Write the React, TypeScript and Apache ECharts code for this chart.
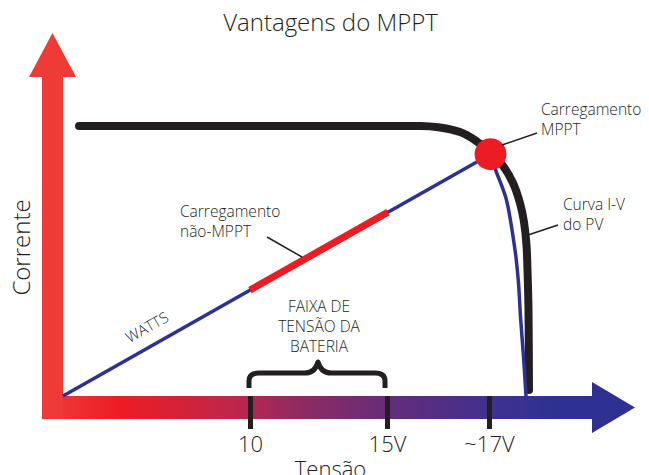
import React, { useEffect, useRef } from "react";
import * as echarts from "echarts";

// Schematic axes: x = voltage position (0..100), y = current (0..100)
const xTickValues = [37.5, 64.9, 85.3];
const xTickLabels = ["10", "15V", "~17V"];

const ivCurve = [
  [3.2, 90], [71.4, 90], [75.4, 89.5], [79.4, 88], [82.4, 85.3], [85.4, 81.3],
  [88, 76.7], [90, 71], [91.4, 64.3], [92.2, 58], [92.7, 50.3], [92.9, 42],
  [93.1, 28.7], [93.2, 2],
];
const wattsLine = [[0, 0], [85.5, 80.6]];
const mpptDrop = [
  [85.5, 80.6], [86.4, 75.9], [88.7, 65.3], [90.4, 48.7], [91.1, 37.6],
  [91.5, 26.4], [92.1, 13.1], [92.6, 0],
];
const nonMpptSegment = [[37.4, 35.3], [65.0, 61.3]];
const mppPoint = [[85.5, 80.6]];

const FONT = "'Open Sans', 'DejaVu Sans', sans-serif";
const INK = "#231f20";
const BLUE = "#2e3192";
const RED = "#ed1c24";

const bracePath =
  "M2 29 L2 22 Q2 14 12 14 L58 14 Q68 14 71 3 Q74 14 84 14 L128 14 Q138 14 138 22 L138 29";
let registered = false;

export default function App() {
  const ref = useRef<HTMLDivElement>(null);
  useEffect(() => {
    if (!registered) {
      echarts.graphic.registerShape("brace", echarts.graphic.extendPath(bracePath, {}));
      registered = true;
    }
    const chart = echarts.init(ref.current!, null, { renderer: "svg" });
    const txt = (text: string, x: number, y: number, size: number, align = "left", lh = 19, extra: any = {}) => ({
      type: "text",
      x,
      y,
      z: 10,
      ...extra,
      style: {
        text,
        x: 0,
        y: 0,
        fill: INK,
        fontSize: size,
        fontFamily: FONT,
        fontWeight: 300,
        align,
        verticalAlign: "middle",
        lineHeight: lh,
      },
    });
    chart.setOption({
      animation: false,
      backgroundColor: "#ffffff",
      grid: { left: 63, top: 96, width: 500, height: 300 },
      xAxis: {
        type: "value",
        min: 0,
        max: 100,
        z: 5,
        axisLine: { show: false },
        splitLine: { show: false },
        axisTick: {
          show: true,
          customValues: xTickValues,
          length: 33,
          lineStyle: { color: INK, width: 5 },
        },
        axisLabel: {
          show: true,
          customValues: xTickValues,
          formatter: (v: number) => {
            const i = xTickValues.indexOf(v);
            return i >= 0 ? xTickLabels[i] : "";
          },
          margin: 47,
          verticalAlign: "middle",
          color: INK,
          fontSize: 22,
          fontFamily: FONT,
          fontWeight: 300,
        },
      },
      yAxis: {
        type: "value",
        min: 0,
        max: 100,
        axisLine: { show: false },
        axisTick: { show: false },
        axisLabel: { show: false },
        splitLine: { show: false },
      },
      series: [
        {
          type: "line",
          data: ivCurve,
          symbol: "none",
          smooth: 0.3,
          lineStyle: { color: INK, width: 8, cap: "round", join: "round" },
          z: 3,
        },
        {
          type: "line",
          data: wattsLine,
          symbol: "none",
          lineStyle: { color: BLUE, width: 3.5 },
          z: 4,
        },
        {
          type: "line",
          data: mpptDrop,
          symbol: "none",
          smooth: 0.3,
          lineStyle: { color: BLUE, width: 3.5, cap: "round" },
          z: 4,
        },
        {
          type: "line",
          data: nonMpptSegment,
          symbol: "none",
          lineStyle: { color: RED, width: 7, cap: "butt" },
          z: 5,
        },
        {
          type: "scatter",
          data: mppPoint,
          symbol: "circle",
          symbolSize: 32,
          itemStyle: { color: RED, opacity: 1 },
          z: 6,
        },
      ],
      graphic: [
        {
          type: "polygon",
          z: 1,
          shape: {
            points: [[42, 396], [592, 396], [592, 382], [635, 407.5], [592, 433], [592, 419], [42, 419]],
          },
          style: {
            fill: {
              type: "linear", x: 0, y: 0, x2: 1, y2: 0,
              colorStops: [
                { offset: 0, color: "#ef3d37" },
                { offset: 0.13, color: "#ed1c24" },
                { offset: 0.32, color: "#c0264a" },
                { offset: 0.42, color: "#942a5e" },
                { offset: 0.6, color: "#612d7d" },
                { offset: 0.77, color: "#3d3190" },
                { offset: 0.87, color: "#2e3192" },
                { offset: 1, color: "#2e3192" },
              ],
            },
          },
        },
        {
          type: "polygon",
          z: 1,
          shape: {
            points: [[42, 419], [42, 77], [29, 77], [52.5, 33], [76, 77], [63, 77], [63, 419]],
          },
          style: { fill: "#ef3b36" },
        },
        {
          type: "brace",
          x: 247,
          y: 359,
          z: 5,
          style: { stroke: INK, lineWidth: 5, fill: "none", lineCap: "butt", lineJoin: "round" },
        },
        { type: "line", z: 10, shape: { x1: 267, y1: 237, x2: 302, y2: 257 }, style: { stroke: INK, lineWidth: 1.5 } },
        { type: "line", z: 10, shape: { x1: 502, y1: 145, x2: 537, y2: 133 }, style: { stroke: INK, lineWidth: 1.5 } },
        { type: "line", z: 10, shape: { x1: 528, y1: 235, x2: 558, y2: 225 }, style: { stroke: INK, lineWidth: 1.5 } },
        txt("Vantagens do MPPT", 330.5, 21.3, 24, "center"),
        txt("Carregamento\nMPPT", 541, 118.7, 15.5, "left", 20),
        txt("Curva I-V\ndo PV", 563, 214.2, 15.5, "left", 20),
        txt("Carregamento\nnão-MPPT", 180, 220.5, 15.5, "left", 20),
        txt("FAIXA DE\nTENSÃO DA\nBATERIA", 319, 326, 15.5, "center", 20),
        txt("WATTS", 146.7, 326.7, 15, "center", 19, { rotation: 0.513 }),
        txt("Tensão", 330.5, 468, 22, "center"),
        txt("Corrente", 20, 247.5, 24, "center", 24, { rotation: Math.PI / 2 }),
      ],
    });
    return () => chart.dispose();
  }, []);
  return (
    <div
      ref={ref}
      style={{ position: "absolute", left: 0, top: 0, width: 649, height: 475 }}
    />
  );
}
